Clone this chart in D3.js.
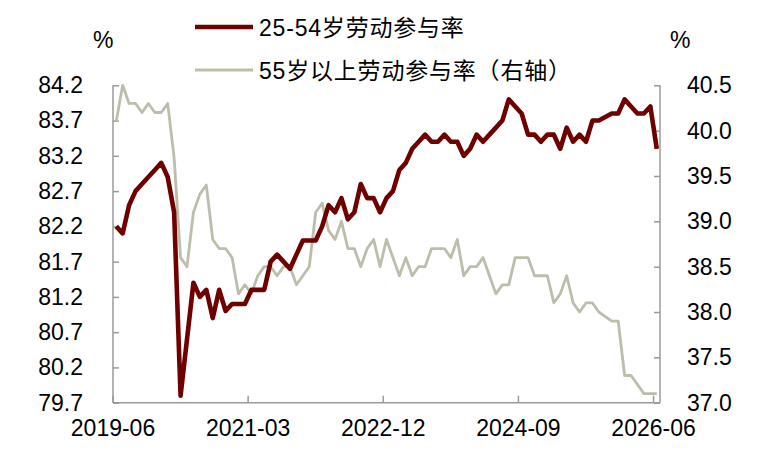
<!DOCTYPE html>
<html>
<head>
<meta charset="utf-8">
<script src="https://cdn.jsdelivr.net/npm/d3@7"></script>
<style>
  html, body { margin: 0; padding: 0; background: #fff; }
  svg text { font-family: "Liberation Sans", Arial, "Noto Sans CJK SC", sans-serif; fill: #000; }
</style>
</head>
<body>
<div id="chart"></div>
<script>
// monthly, 2019-06 .. 2026-06
var startYear = 2019, startMonth = 6, monthCount = 85;
var tickLabels = ["2019-06", "2021-03", "2022-12", "2024-09", "2026-06"];

// 25-54岁劳动参与率 (left axis)
var prime = [
  82.2, 82.1, 82.5, 82.7, 82.8, 82.9, 83.0, 83.1, 82.9, 82.4,
  79.8, 80.6, 81.4, 81.2, 81.3, 80.9, 81.3, 81.0, 81.1, 81.1,
  81.1, 81.3, 81.3, 81.3, 81.7, 81.8, 81.7, 81.6, 81.8, 82.0,
  82.0, 82.0, 82.2, 82.5, 82.4, 82.6, 82.3, 82.4, 82.8, 82.6,
  82.6, 82.4, 82.6, 82.7, 83.0, 83.1, 83.3, 83.4, 83.5, 83.4,
  83.4, 83.5, 83.4, 83.4, 83.2, 83.3, 83.5, 83.4, 83.5, 83.6,
  83.7, 84.0, 83.9, 83.8, 83.5, 83.5, 83.4, 83.5, 83.5, 83.3,
  83.6, 83.4, 83.5, 83.4, 83.7, 83.7, 83.75, 83.8, 83.8, 84.0,
  83.9, 83.8, 83.8, 83.9, 83.3
];

// 55岁以上劳动参与率 (right axis)
var older = [
  40.1, 40.5, 40.3, 40.3, 40.2, 40.3, 40.2, 40.2, 40.3, 39.7,
  38.6, 38.5, 39.1, 39.3, 39.4, 38.8, 38.7, 38.7, 38.6, 38.2,
  38.3, 38.2, 38.4, 38.5, 38.5, 38.4, 38.5, 38.5, 38.3, 38.4,
  38.5, 39.1, 39.2, 38.9, 38.8, 39.0, 38.7, 38.7, 38.5, 38.7,
  38.8, 38.5, 38.8, 38.6, 38.4, 38.6, 38.4, 38.5, 38.5, 38.7,
  38.7, 38.7, 38.6, 38.8, 38.4, 38.5, 38.5, 38.6, 38.4, 38.2,
  38.3, 38.3, 38.6, 38.6, 38.6, 38.4, 38.4, 38.4, 38.1, 38.2,
  38.4, 38.1, 38.0, 38.1, 38.1, 38.0, 37.95, 37.9, 37.9, 37.3,
  37.3, 37.2, 37.1, 37.1, 37.1
];

var leftTicks = [79.7, 80.2, 80.7, 81.2, 81.7, 82.2, 82.7, 83.2, 83.7, 84.2];
var rightTicks = [37.0, 37.5, 38.0, 38.5, 39.0, 39.5, 40.0, 40.5];
var seriesNames = ["25-54岁劳动参与率", "55岁以上劳动参与率（右轴）"];

// month keys for the category axis
var months = [];
for (var i = 0; i < monthCount; i++) {
  var m = startMonth - 1 + i;
  var y = startYear + Math.floor(m / 12);
  months.push(y + "-" + String(m % 12 + 1).padStart(2, "0"));
}

var W = 757, H = 453;
var plot = {left: 113, right: 660, top: 85.3, bottom: 402.7};
var axisColor = "#9a9a9a";
var colors = ["#6e0000", "#bdbdac"];

var svg = d3.select("#chart").append("svg")
  .attr("width", W).attr("height", H);

var x = d3.scaleBand().domain(months).range([plot.left, plot.right]).padding(0);
var yL = d3.scaleLinear().domain([79.7, 84.2]).range([plot.bottom, plot.top]);
var yR = d3.scaleLinear().domain([37.0, 40.5]).range([plot.bottom, plot.top]);

// left axis
var leftAxis = d3.axisLeft(yL).tickValues(leftTicks).tickSize(-6).tickPadding(30)
  .tickFormat(d3.format(".1f"));
var gl = svg.append("g").attr("transform", "translate(" + plot.left + ",0)").call(leftAxis);

// right axis
var rightAxis = d3.axisRight(yR).tickValues(rightTicks).tickSize(-6).tickPadding(27)
  .tickFormat(d3.format(".1f"));
var gr = svg.append("g").attr("transform", "translate(" + plot.right + ",0)").call(rightAxis);

// bottom axis, ticks at the start of the labelled months
var bottomAxis = d3.axisBottom(x).tickValues(tickLabels).tickSize(-7).tickPadding(26);
var gb = svg.append("g").attr("transform", "translate(0," + plot.bottom + ")").call(bottomAxis);
gb.selectAll(".tick").attr("transform", function(d) { return "translate(" + x(d) + ",0)"; });

[gl, gr, gb].forEach(function(g) {
  g.select(".domain").attr("stroke", axisColor).attr("stroke-width", 1.5);
  g.selectAll(".tick line").attr("stroke", axisColor).attr("stroke-width", 1.5);
  g.selectAll(".tick text").style("font-size", "23px").attr("fill", "#000");
});
gl.select(".domain").attr("d", "M0," + plot.top + "V" + plot.bottom);
gr.select(".domain").attr("d", "M0," + plot.top + "V" + plot.bottom);
gb.select(".domain").attr("d", "M" + plot.left + ",0H" + plot.right);
gb.selectAll(".tick text").attr("dy", "0.3em");

// lines
var cx = function(d, i) { return x(months[i]) + x.bandwidth() / 2; };
var lineL = d3.line().x(cx).y(function(d) { return yL(d); });
var lineR = d3.line().x(cx).y(function(d) { return yR(d); });

svg.append("path").datum(older)
  .attr("d", lineR).attr("fill", "none")
  .attr("stroke", colors[1]).attr("stroke-width", 2.8).attr("stroke-linejoin", "round");

svg.append("path").datum(prime)
  .attr("d", lineL).attr("fill", "none")
  .attr("stroke", colors[0]).attr("stroke-width", 4.6).attr("stroke-linejoin", "round");

// units
svg.append("text").attr("x", 93).attr("y", 48).style("font-size", "23px").text("%");
svg.append("text").attr("x", 670).attr("y", 48).style("font-size", "23px").text("%");

// legend
var legend = [
  {name: seriesNames[0], color: colors[0], width: 4.6, y: 27},
  {name: seriesNames[1], color: colors[1], width: 2.8, y: 70}
];
legend.forEach(function(l) {
  svg.append("line")
    .attr("x1", 195).attr("x2", 253).attr("y1", l.y).attr("y2", l.y)
    .attr("stroke", l.color).attr("stroke-width", l.width);
  svg.append("text")
    .attr("x", 259).attr("y", l.y + 9)
    .style("font-size", "23px")
    .style("letter-spacing", "0.8px")
    .text(l.name);
});
</script>
</body>
</html>
